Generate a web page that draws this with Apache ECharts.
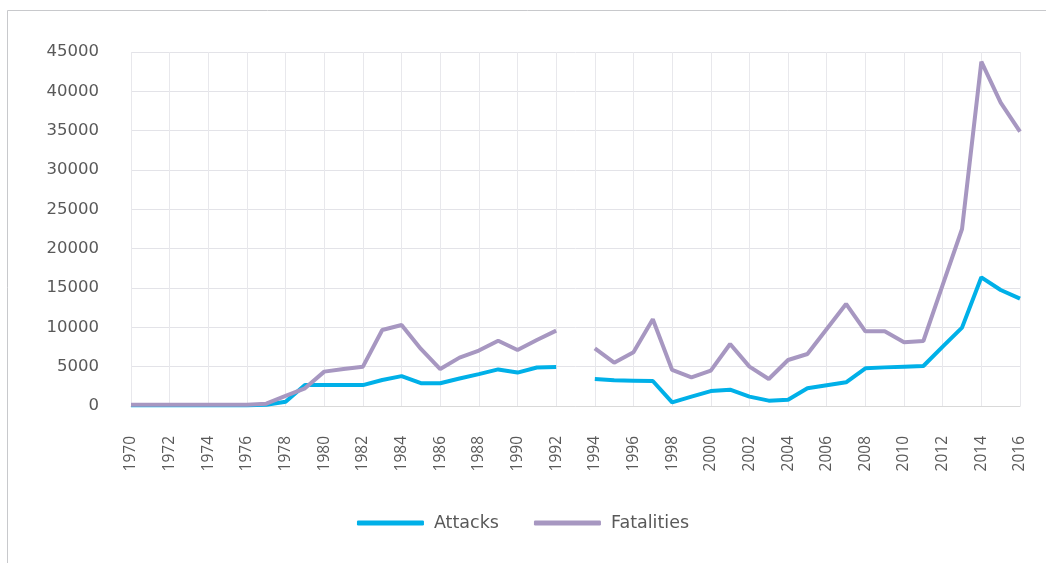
<!DOCTYPE html>
<html>
<head>
<meta charset="utf-8">
<script src="https://cdn.jsdelivr.net/npm/echarts@6/dist/echarts.min.js"></script>
<style>
  html, body { margin: 0; padding: 0; background: #fff; }
  #chart { width: 1046px; height: 563px; }
</style>
</head>
<body>
<div id="chart"></div>
<script>
// Years 1970–2016; 1993 has no record, so it stays empty and breaks the lines.
const years = [];
for (let y = 1970; y <= 2016; y++) years.push(String(y));

const attacks = [
  100, 100, 100, 100, 100, 100, 100, 150, 550, 2670,   // 1970-1979
  2660, 2660, 2660, 3300, 3800, 2900, 2900, 3500, 4050, 4650, // 1980-1989
  4250, 4900, 4950, null, 3430, 3260, 3220, 3180, 470, 1190,  // 1990-1999
  1900, 2080, 1190, 680, 800, 2250, 2630, 3010, 4790, 4910,   // 2000-2009
  5000, 5080, 7540, 9960, 16360, 14750, 13650                 // 2010-2016
];

const fatalities = [
  150, 150, 150, 150, 150, 150, 150, 300, 1300, 2250,
  4370, 4700, 5000, 9660, 10300, 7250, 4700, 6150, 7050, 8300,
  7120, 8390, 9580, null, 7330, 5510, 6820, 11020, 4580, 3650,
  4500, 7880, 5000, 3430, 5850, 6610, 9790, 12970, 9490, 9490,
  8100, 8260, 15400, 22500, 43770, 38560, 34870
];

const seriesNames = ['Attacks', 'Fatalities'];
const seriesColors = ['#00b0e8', '#a797c1'];

const chart = echarts.init(document.getElementById('chart'), null, { renderer: 'canvas' });
const textColor = '#595959';
const fontFamily = '"DejaVu Sans", sans-serif';
const yearFont = '"Open Sans", sans-serif';

chart.setOption({
  animation: false,
  backgroundColor: '#fff',
  graphic: [{
    type: 'rect',
    silent: true,
    shape: { x: 7.5, y: 10.5, width: 1100, height: 700 },
    style: { fill: 'none', stroke: '#c8c9cc', lineWidth: 1 }
  }],
  grid: { left: 131, right: 26, top: 52, bottom: 157 },
  legend: {
    data: seriesNames,
    left: 'center',
    top: 509,
    icon: 'roundRect',
    itemWidth: 67,
    itemHeight: 5,
    itemGap: 35,
    textStyle: { color: textColor, fontSize: 17.5, fontFamily: fontFamily, padding: [0, 0, 0, 5] }
  },
  xAxis: {
    type: 'category',
    data: years,
    boundaryGap: false,
    axisLine: { show: true, lineStyle: { color: '#d9d9d9' } },
    axisTick: { show: false },
    axisLabel: {
      interval: 1,
      rotate: 90,
      margin: 30,
      color: textColor,
      fontSize: 15.5,
      fontFamily: yearFont
    },
    splitLine: { show: true, interval: 1, lineStyle: { color: '#e8e8ec', width: 1 } }
  },
  yAxis: {
    type: 'value',
    min: 0,
    max: 45000,
    interval: 5000,
    axisLine: { show: false },
    axisTick: { show: false },
    axisLabel: {
      margin: 32,
      color: textColor,
      fontSize: 16.5,
      fontFamily: fontFamily,
      formatter: v => String(v)
    },
    splitLine: { lineStyle: { color: '#e3e3e8', width: 1 } }
  },
  series: [
    {
      name: seriesNames[0],
      type: 'line',
      data: attacks,
      connectNulls: false,
      showSymbol: false,
      symbol: 'none',
      color: seriesColors[0],
      lineStyle: { width: 4, color: seriesColors[0] }
    },
    {
      name: seriesNames[1],
      type: 'line',
      data: fatalities,
      connectNulls: false,
      showSymbol: false,
      symbol: 'none',
      color: seriesColors[1],
      lineStyle: { width: 4, color: seriesColors[1] }
    }
  ]
});
</script>
</body>
</html>
